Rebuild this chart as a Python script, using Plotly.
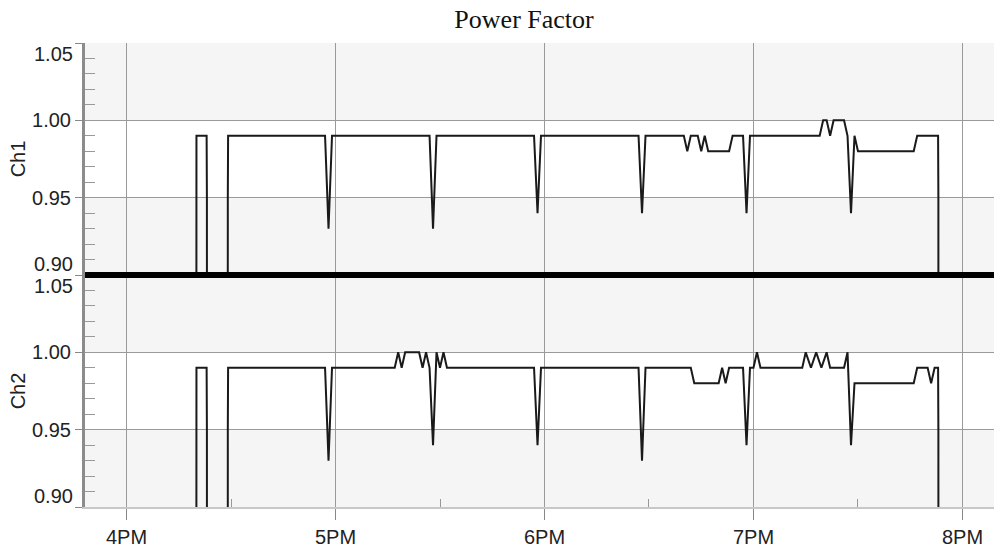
import plotly.graph_objects as go
from plotly.subplots import make_subplots

DAY = "2024-05-01 "

# ---- Data (time of day, power factor); 0.0 = channel off (reading drops out of range)
ch1_time = ["16:19:55", "16:20:00", "16:20:05", "16:23:00", "16:23:05", "16:23:10",
            "16:29:00", "16:29:05", "16:29:10",
            "16:57:00", "16:58:00", "16:59:00",
            "17:27:00", "17:28:00", "17:29:00",
            "17:57:00", "17:58:00", "17:59:00",
            "18:27:00", "18:28:00", "18:29:00",
            "18:40:00", "18:41:00", "18:42:00", "18:44:00", "18:45:00", "18:46:00",
            "18:47:00", "18:53:00", "18:54:00", "18:57:00", "18:58:00", "18:59:00",
            "19:19:00", "19:20:00", "19:21:00", "19:22:00", "19:23:00", "19:26:00",
            "19:27:00", "19:28:00", "19:29:00", "19:30:00", "19:46:00", "19:47:00",
            "19:53:00", "19:53:05", "19:53:10"]
ch1_pf = [0.0, 0.92, 0.99, 0.99, 0.95, 0.0,
          0.0, 0.95, 0.99,
          0.99, 0.93, 0.99,
          0.99, 0.93, 0.99,
          0.99, 0.94, 0.99,
          0.99, 0.94, 0.99,
          0.99, 0.98, 0.99, 0.99, 0.98, 0.99,
          0.98, 0.98, 0.99, 0.99, 0.94, 0.99,
          0.99, 1.00, 1.00, 0.99, 1.00, 1.00,
          0.99, 0.94, 0.99, 0.98, 0.98, 0.99,
          0.99, 0.95, 0.0]

ch2_time = ["16:19:55", "16:20:00", "16:20:05", "16:23:00", "16:23:05", "16:23:10",
            "16:29:00", "16:29:05", "16:29:10",
            "16:57:00", "16:58:00", "16:59:00",
            "17:17:00", "17:18:00", "17:19:00", "17:20:00", "17:24:00", "17:25:00",
            "17:26:00", "17:27:00", "17:28:00", "17:29:00", "17:30:00", "17:31:00",
            "17:32:00",
            "17:57:00", "17:58:00", "17:59:00",
            "18:27:00", "18:28:00", "18:29:00",
            "18:42:00", "18:43:00", "18:50:00", "18:51:00", "18:52:00", "18:53:00",
            "18:57:00", "18:58:00", "18:59:00", "19:00:00", "19:01:00", "19:02:00",
            "19:14:00", "19:15:00", "19:16:30", "19:18:00", "19:19:30", "19:21:00",
            "19:22:00", "19:26:00", "19:27:00", "19:28:00", "19:29:00",
            "19:46:00", "19:47:00", "19:50:00", "19:51:00", "19:52:00",
            "19:53:00", "19:53:05", "19:53:10"]
ch2_pf = [0.0, 0.92, 0.99, 0.99, 0.95, 0.0,
          0.0, 0.95, 0.99,
          0.99, 0.93, 0.99,
          0.99, 1.00, 0.99, 1.00, 1.00, 0.99,
          1.00, 0.99, 0.94, 1.00, 0.99, 1.00,
          0.99,
          0.99, 0.94, 0.99,
          0.99, 0.93, 0.99,
          0.99, 0.98, 0.98, 0.99, 0.98, 0.99,
          0.99, 0.94, 0.99, 0.99, 1.00, 0.99,
          0.99, 1.00, 0.99, 1.00, 0.99, 1.00,
          0.99, 0.99, 1.00, 0.94, 0.98,
          0.98, 0.99, 0.99, 0.98, 0.99,
          0.99, 0.95, 0.0]

x_tick_vals = ["16:00", "17:00", "18:00", "19:00", "20:00"]
x_tick_text = ["4PM", "5PM", "6PM", "7PM", "8PM"]
x_minor_vals = ["16:30", "17:30", "18:30", "19:30"]
x_range = ["15:48:05", "20:09:03"]

y_tick_vals = [0.90, 0.95, 1.00, 1.05]
y_tick_text = ["0.90", "0.95", "1.00", "1.05"]
y_minor_vals = [0.91, 0.92, 0.93, 0.94, 0.96, 0.97, 0.98, 0.99, 1.01, 1.02, 1.03, 1.04]
y_range = [0.90, 1.05]
band = [0.95, 1.00]

channel_names = ["Ch1", "Ch2"]

fig = make_subplots(rows=2, cols=1, shared_xaxes=True, vertical_spacing=0)

for i, (t, v) in enumerate([(ch1_time, ch1_pf), (ch2_time, ch2_pf)]):
    fig.add_trace(go.Scatter(x=[DAY + s for s in t], y=v, mode="lines",
                             line=dict(color="#1a1a1a", width=2),
                             showlegend=False, hoverinfo="skip"),
                  row=i + 1, col=1)

SANS = "Liberation Sans, Arial, sans-serif"
GRID = "#9a9a9a"
FS = 20
TXT = "#222"

xcommon = dict(range=[DAY + s for s in x_range], tickmode="array",
               tickvals=[DAY + s for s in x_tick_vals], ticktext=x_tick_text,
               showgrid=True, gridcolor=GRID, gridwidth=1, zeroline=False)
fig.update_xaxes(**xcommon, row=1, col=1, showticklabels=False, ticks="")
fig.update_xaxes(**xcommon, row=2, col=1, ticks="outside", ticklen=11, tickcolor="#888",
                 showline=True, linecolor="#c8c8c8", linewidth=2,
                 tickfont=dict(family=SANS, size=FS, color=TXT),
                 minor=dict(tickmode="array", tickvals=[DAY + s for s in x_minor_vals],
                            ticks="inside", ticklen=8, tickcolor="#999", showgrid=False))

# inner labels only on axis ticks; the edge labels (0.90 / 1.05) are nudged inside each panel
inner_text = [s if 0 < k < len(y_tick_text) - 1 else "" for k, s in enumerate(y_tick_text)]
for i, name in enumerate(channel_names):
    fig.update_yaxes(range=y_range, tickmode="array", tickvals=y_tick_vals, ticktext=inner_text,
                     showgrid=True, gridcolor=GRID, gridwidth=1, zeroline=False,
                     ticks="outside", ticklen=7, tickcolor="#888",
                     showline=True, linecolor="#8c8c8c", linewidth=3,
                     tickfont=dict(family=SANS, size=FS, color=TXT),
                     title=dict(text=name, font=dict(family=SANS, size=FS, color=TXT), standoff=2),
                     minor=dict(tickmode="array", tickvals=y_minor_vals, ticks="inside",
                                ticklen=10, tickcolor="#999", showgrid=False),
                     row=i + 1, col=1)
    yref = "y" if i == 0 else "y2"
    for val, txt, shift in [(y_tick_vals[0], y_tick_text[0], 11), (y_tick_vals[-1], y_tick_text[-1], -11)]:
        fig.add_annotation(x=0, xref="paper", xanchor="right", xshift=-11,
                           y=val, yref=yref, yanchor="middle", yshift=shift,
                           text=txt, showarrow=False, borderpad=0,
                           font=dict(family=SANS, size=FS, color=TXT))

# white band between 0.95 and 1.00 in each panel
for i, yref in enumerate(["y", "y2"]):
    fig.add_shape(type="rect", xref="x domain" if i == 0 else "x2 domain", yref=yref,
                  x0=0, x1=1, y0=band[0], y1=band[1], fillcolor="#ffffff",
                  line=dict(width=0), layer="below")

# thick separator between the two channels
fig.add_shape(type="line", xref="paper", yref="paper", x0=0, x1=1, y0=0.5, y1=0.5,
              line=dict(color="black", width=6))

fig.update_layout(
    width=994, height=548,
    margin=dict(l=85, r=0, t=43, b=36),
    paper_bgcolor="white", plot_bgcolor="#f5f5f5",
    title=dict(text="Power Factor", x=0.483, xref="paper", xanchor="center",
               y=1 - 19 / 548, yref="container", yanchor="middle",
               font=dict(family="Liberation Serif, Times New Roman, serif", size=26, color="#111")),
)

fig.write_html("out.html")
